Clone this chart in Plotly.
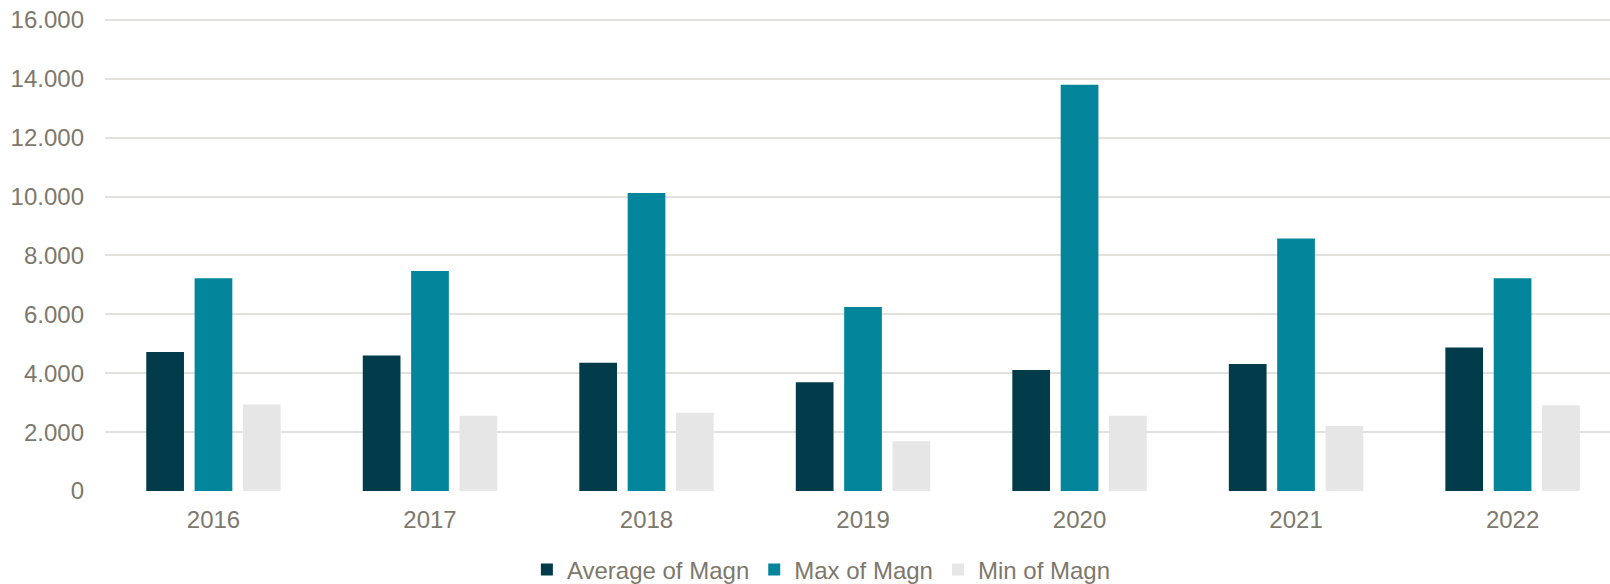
import plotly.graph_objects as go

years = ["2016", "2017", "2018", "2019", "2020", "2021", "2022"]
avg_magn = [4.72, 4.60, 4.36, 3.69, 4.11, 4.31, 4.87]
max_magn = [7.23, 7.47, 10.12, 6.25, 13.80, 8.58, 7.23]
min_magn = [2.94, 2.56, 2.66, 1.69, 2.56, 2.21, 2.91]
series_names = ["Average of Magn", "Max of Magn", "Min of Magn"]
y_tickvals = [0, 2, 4, 6, 8, 10, 12, 14, 16]
y_ticktext = ["0", "2.000", "4.000", "6.000", "8.000", "10.000", "12.000", "14.000", "16.000"]

colors = ["#023B4A", "#03869B", "#E6E6E6"]
text_color = "#7D786C"
font_family = "Liberation Sans, Arial, sans-serif"

fig = go.Figure()
for name, vals, col in zip(series_names, [avg_magn, max_magn, min_magn], colors):
    fig.add_trace(go.Bar(
        x=years, y=vals, name=name,
        marker=dict(color=col, line=dict(width=0)),
    ))

fig.update_layout(
    width=1610, height=584,
    margin=dict(l=105, r=0, t=17, b=93, pad=0, autoexpand=False),
    paper_bgcolor="white", plot_bgcolor="white",
    barmode="group", bargap=0.33, bargroupgap=0.22,
    hovermode=False,
    font=dict(family=font_family, size=24, color=text_color),
    showlegend=True,
    legend=dict(orientation="h", x=0.476, xanchor="center",
                yref="container", y=0.024, yanchor="middle",
                font=dict(size=24, color=text_color), traceorder="normal"),
    xaxis=dict(range=[-0.501, 6.45], showgrid=False, zeroline=False, showline=False,
               ticks="", ticklabelstandoff=12, tickfont=dict(size=24, color=text_color)),
    yaxis=dict(range=[0, 16.1], tickvals=y_tickvals, ticktext=y_ticktext,
               showgrid=True, gridcolor="#E3E1DD", gridwidth=2, zeroline=False,
               showline=False, ticks="", ticklabelstandoff=20,
               tickfont=dict(size=24, color=text_color)),
)

fig.write_html("out.html", config={"displayModeBar": False},
               post_script="document.body.style.margin='0';")
